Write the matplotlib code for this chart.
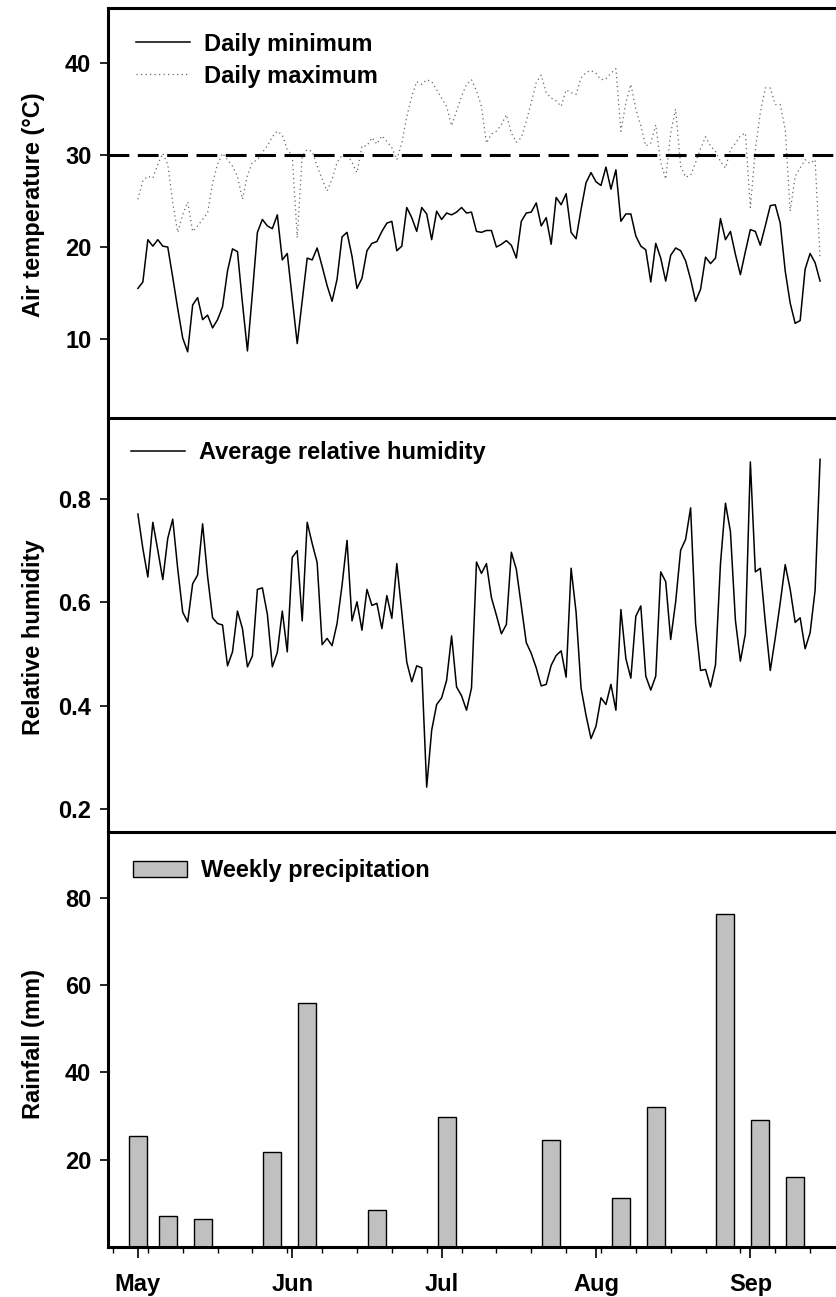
import pandas as pd
import matplotlib
matplotlib.use('Agg')
import matplotlib.pyplot as plt
import matplotlib.dates as mdates
from matplotlib.ticker import FixedLocator

plt.rcParams['font.family'] = ['Liberation Sans', 'DejaVu Sans']
plt.rcParams['font.weight'] = 'bold'
plt.rcParams['font.size'] = 17
plt.rcParams['axes.labelweight'] = 'bold'

# Daily weather, 1 May - 15 Sep
days = pd.date_range('2000-05-01', periods=138, freq='D')

tmin = [15.5, 16.2, 20.8, 20.1, 20.8, 20.1, 20.0, 16.7, 13.3, 10.1,
        8.6, 13.7, 14.5, 12.1, 12.6, 11.2, 12.1, 13.5, 17.4, 19.8,
        19.5, 13.9, 8.7, 15.0, 21.6, 23.0, 22.3, 22.0, 23.5, 18.6,
        19.3, 14.4, 9.5, 14.2, 18.8, 18.6, 19.9, 17.9, 15.8, 14.1,
        16.5, 21.1, 21.6, 19.0, 15.5, 16.6, 19.6, 20.4, 20.6, 21.7,
        22.6, 22.8, 19.6, 20.1, 24.3, 23.2, 21.7, 24.3, 23.6, 20.8,
        23.9, 23.0, 23.7, 23.5, 23.8, 24.3, 23.7, 23.8, 21.7, 21.6,
        21.8, 21.8, 20.0, 20.3, 20.7, 20.2, 18.8, 22.8, 23.7, 23.8,
        24.8, 22.3, 23.2, 20.3, 25.4, 24.6, 25.8, 21.6, 20.9, 24.1,
        27.0, 28.1, 27.1, 26.7, 28.7, 26.3, 28.4, 22.8, 23.6, 23.6,
        21.2, 20.1, 19.7, 16.2, 20.4, 18.8, 16.3, 19.1, 19.9, 19.6,
        18.5, 16.5, 14.1, 15.4, 18.9, 18.2, 18.8, 23.1, 20.8, 21.7,
        19.2, 17.0, 19.5, 21.9, 21.7, 20.2, 22.3, 24.5, 24.6, 22.6,
        17.4, 13.9, 11.7, 12.0, 17.6, 19.3, 18.3, 16.3]

tmax = [25.2, 27.2, 27.7, 27.5, 29.0, 30.2, 29.0, 24.8, 21.6, 23.5,
        24.9, 21.7, 22.3, 23.0, 23.7, 27.0, 29.0, 30.2, 29.5, 28.8,
        27.7, 25.2, 27.8, 29.2, 29.5, 30.3, 31.0, 32.0, 32.6, 32.2,
        30.6, 30.0, 21.0, 29.9, 30.6, 30.4, 28.8, 27.4, 26.1, 27.4,
        29.2, 30.0, 30.1, 29.2, 28.1, 31.0, 31.0, 31.9, 31.2, 32.1,
        31.5, 30.8, 29.5, 31.3, 34.2, 36.4, 38.0, 37.7, 38.2, 38.0,
        37.1, 36.2, 35.3, 33.2, 34.8, 36.4, 37.7, 38.2, 37.0, 35.3,
        31.3, 32.3, 32.6, 33.3, 34.4, 32.4, 31.4, 31.9, 33.7, 35.7,
        37.9, 38.7, 36.8, 36.2, 35.9, 35.3, 37.1, 36.8, 36.6, 38.4,
        39.0, 39.2, 38.9, 38.2, 38.3, 38.9, 39.4, 32.6, 35.7, 37.7,
        35.0, 33.2, 31.0, 31.3, 33.3, 29.2, 27.4, 32.4, 35.0, 28.8,
        27.6, 27.8, 29.2, 30.7, 32.0, 31.0, 30.4, 29.3, 28.6, 30.6,
        31.3, 32.1, 32.4, 24.3, 30.6, 34.6, 37.3, 37.3, 35.5, 35.5,
        32.8, 23.9, 27.7, 28.6, 29.5, 29.1, 29.5, 18.8]

rh = [0.771, 0.704, 0.649, 0.755, 0.701, 0.644, 0.724, 0.761, 0.665, 0.581,
      0.562, 0.636, 0.653, 0.752, 0.650, 0.570, 0.559, 0.556, 0.477, 0.504,
      0.583, 0.549, 0.475, 0.496, 0.625, 0.628, 0.577, 0.475, 0.503, 0.583,
      0.504, 0.687, 0.700, 0.564, 0.755, 0.714, 0.677, 0.518, 0.530, 0.516,
      0.559, 0.633, 0.720, 0.564, 0.601, 0.546, 0.625, 0.594, 0.598, 0.549,
      0.613, 0.569, 0.675, 0.581, 0.484, 0.446, 0.477, 0.473, 0.242, 0.352,
      0.402, 0.415, 0.449, 0.535, 0.436, 0.419, 0.391, 0.434, 0.678, 0.656,
      0.675, 0.609, 0.575, 0.539, 0.557, 0.697, 0.664, 0.593, 0.522, 0.501,
      0.473, 0.438, 0.441, 0.478, 0.497, 0.506, 0.455, 0.666, 0.581, 0.434,
      0.381, 0.336, 0.360, 0.415, 0.402, 0.441, 0.391, 0.586, 0.491, 0.453,
      0.573, 0.593, 0.457, 0.430, 0.457, 0.659, 0.640, 0.528, 0.601, 0.701,
      0.722, 0.783, 0.559, 0.468, 0.470, 0.436, 0.479, 0.675, 0.792, 0.737,
      0.565, 0.486, 0.539, 0.872, 0.659, 0.666, 0.562, 0.468, 0.531, 0.599,
      0.673, 0.625, 0.561, 0.570, 0.510, 0.541, 0.623, 0.877]

# Weekly rainfall totals
rain_dates = pd.to_datetime(['2000-05-01', '2000-05-07', '2000-05-14', '2000-05-28',
                             '2000-06-04', '2000-06-18', '2000-07-02', '2000-07-23',
                             '2000-08-06', '2000-08-13', '2000-08-27', '2000-09-03',
                             '2000-09-10'])
rain_mm = [25.4, 7.0, 6.5, 21.8, 55.8, 8.4, 29.8, 24.4, 11.1, 32.0, 76.2, 29.1, 16.0]

fig = plt.figure(figsize=(8.36, 12.97), dpi=100)
left, width = 0.1292, 0.8708
ax1 = fig.add_axes([left, 0.6777, width, 0.3161])
ax2 = fig.add_axes([left, 0.3585, width, 0.3192], sharex=ax1)
ax3 = fig.add_axes([left, 0.0386, width, 0.3199], sharex=ax1)

ax1.plot(days, tmin, color='black', lw=1.1, label='Daily minimum')
ax1.plot(days, tmax, color='0.4', lw=0.9, ls=(0, (1, 2.6)), label='Daily maximum')
ax1.axhline(30, color='black', lw=2.2, ls=(0, (6.8, 2.8)))
ax1.set_ylim(1.4, 46)
ax1.yaxis.set_major_locator(FixedLocator([10, 20, 30, 40]))
ax1.set_ylabel('Air temperature (°C)')

ax2.plot(days, rh, color='black', lw=1.1, label='Average relative humidity')
ax2.set_ylim(0.155, 0.957)
ax2.yaxis.set_major_locator(FixedLocator([0.2, 0.4, 0.6, 0.8]))
ax2.set_ylabel('Relative humidity')

ax3.bar(rain_dates, rain_mm, width=3.6, color='#c0c0c0', edgecolor='black',
        lw=1.0, label='Weekly precipitation')
ax3.set_ylim(0, 95)
ax3.yaxis.set_major_locator(FixedLocator([20, 40, 60, 80]))
ax3.set_ylabel('Rainfall (mm)')

ax3.set_xlim(days[0] - pd.Timedelta(days=6), days[0] + pd.Timedelta(days=140.2))
ax3.xaxis.set_major_locator(mdates.MonthLocator())
ax3.xaxis.set_major_formatter(mdates.DateFormatter('%b'))
weeks = pd.date_range('2000-04-26', periods=21, freq='7D')
ax3.xaxis.set_minor_locator(FixedLocator(mdates.date2num(weeks)))
ax3.tick_params(axis='x', which='major', direction='out', length=8, width=1.2, pad=11)
ax3.tick_params(axis='x', which='minor', direction='out', length=4, width=1.0)

legend_anchor = {ax1: (0.038, 0.94), ax2: (0.031, 0.944), ax3: (0.034, 0.934)}
for ax in (ax1, ax2, ax3):
    for side in ('left', 'top', 'bottom'):
        ax.spines[side].set_linewidth(2.2)
    ax.spines['right'].set_visible(False)
    ax.tick_params(axis='y', direction='out', length=6, width=1.2, pad=6)
    ax.legend(loc='upper left', bbox_to_anchor=legend_anchor[ax], frameon=False,
              handlelength=2.3, handletextpad=0.6, borderpad=0, borderaxespad=0,
              labelspacing=0.38)

for ax in (ax1, ax2):
    ax.spines['bottom'].set_visible(False)
    ax.tick_params(axis='x', which='both', bottom=False, labelbottom=False)

ax1.yaxis.set_label_coords(-0.086, 0.52)
ax2.yaxis.set_label_coords(-0.086, 0.47)
ax3.yaxis.set_label_coords(-0.086, 0.49)

fig.savefig('out.png', dpi=100)
